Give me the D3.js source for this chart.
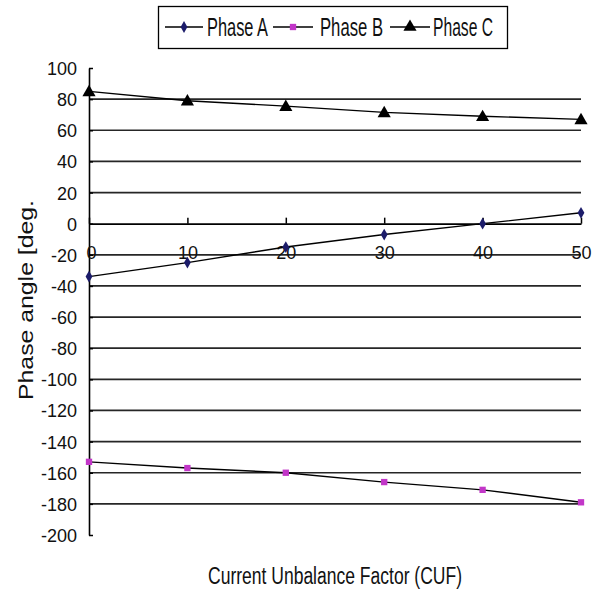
<!DOCTYPE html>
<html>
<head>
<meta charset="utf-8">
<script src="https://cdn.jsdelivr.net/npm/d3@7"></script>
<style>
  html, body { margin: 0; padding: 0; background: #fff; }
  svg { display: block; }
  text { font-family: "Liberation Sans Narrow", "Arial Narrow", "Liberation Sans", sans-serif; fill: #111; }
</style>
</head>
<body>
<div id="chart"></div>
<script>
// Current unbalance factor (%) on the x axis
const cuf = [0, 10, 20, 30, 40, 50];
// Phase angles in degrees
const phaseA = [-34, -25, -15, -7, 0, 7];
const phaseB = [-153, -157, -160, -166, -171, -179];
const phaseC = [85, 79, 75.5, 71.5, 69, 67];
const seriesNames = ["Phase A", "Phase B", "Phase C"];
const yTicks = [100, 80, 60, 40, 20, 0, -20, -40, -60, -80, -100, -120, -140, -160, -180, -200];
const xTicks = [0, 10, 20, 30, 40, 50];

const W = 599, H = 591;
const svg = d3.select("#chart").append("svg").attr("width", W).attr("height", H);

const x = d3.scaleLinear().domain([0, 50]).range([89, 581]);
const y = d3.scaleLinear().domain([-200, 100]).range([535, 68]);

const series = [
  { name: seriesNames[0], values: phaseA, marker: "diamond", color: "#1c1c6a", size: 40 },
  { name: seriesNames[1], values: phaseB, marker: "square", color: "#c236c8", size: 40 },
  { name: seriesNames[2], values: phaseC, marker: "triangle", color: "#000", size: 75 }
];
const symbolType = { diamond: d3.symbolDiamond, square: d3.symbolSquare, triangle: d3.symbolTriangle };
const plain = d => String(d);

// Horizontal gridlines (all except the axis ends and the zero axis)
svg.append("g").selectAll("line")
  .data(yTicks.filter(v => v !== 100 && v !== -200 && v !== 0))
  .join("line")
  .attr("x1", x(0)).attr("x2", x(50))
  .attr("y1", d => y(d)).attr("y2", d => y(d))
  .attr("stroke", "#262626").attr("stroke-width", 1.7);

// Y axis with inside ticks
const yAxis = svg.append("g").attr("transform", `translate(${x(0)},0)`)
  .call(d3.axisLeft(y).tickValues(yTicks).tickFormat(plain).tickSize(-4).tickSizeOuter(0));
yAxis.select(".domain").attr("stroke", "#000").attr("stroke-width", 1.6);
yAxis.selectAll(".tick line").attr("stroke", "#000").attr("stroke-width", 1.5);
yAxis.selectAll(".tick text")
  .attr("x", -12).attr("dy", "0.36em")
  .style("font-size", "18px").attr("fill", "#111");

// X axis placed at y = 0, ticks pointing upward, labels below
const xAxis = svg.append("g").attr("transform", `translate(0,${y(0)})`)
  .call(d3.axisBottom(x).tickValues(xTicks).tickFormat(plain).tickSize(-6).tickSizeOuter(0));
xAxis.select(".domain").attr("stroke", "#000").attr("stroke-width", 1.6);
xAxis.selectAll(".tick line").attr("stroke", "#000").attr("stroke-width", 1.5);
xAxis.selectAll(".tick text")
  .attr("y", 35).attr("dy", 0)
  .style("font-size", "18px").attr("fill", "#111");
xAxis.selectAll(".tick").filter(d => d === 0).select("text").attr("dx", 2);

// Series lines and markers
const line = d3.line().x((d, i) => x(cuf[i])).y(d => y(d));
series.forEach(s => {
  svg.append("path").datum(s.values)
    .attr("d", line).attr("fill", "none")
    .attr("stroke", "#000").attr("stroke-width", 1.4);
  svg.append("g").selectAll("path")
    .data(s.values)
    .join("path")
    .attr("transform", (d, i) => `translate(${x(cuf[i])},${y(d) + (s.marker === "triangle" ? 1 : 0)})`)
    .attr("d", d3.symbol().type(symbolType[s.marker]).size(s.size))
    .attr("fill", s.color);
});

// Axis titles
svg.append("text")
  .attr("transform", `translate(33,300) rotate(-90)`)
  .attr("text-anchor", "middle")
  .attr("textLength", 200).attr("lengthAdjust", "spacingAndGlyphs")
  .style("font-family", "'Liberation Sans', Arial, sans-serif")
  .style("font-size", "21px")
  .attr("fill", "#222")
  .text("Phase angle [deg.");

svg.append("text")
  .attr("x", 335).attr("y", 584)
  .attr("text-anchor", "middle")
  .attr("textLength", 254).attr("lengthAdjust", "spacingAndGlyphs")
  .style("font-size", "23px")
  .text("Current Unbalance Factor (CUF)");

// Legend
const legend = svg.append("g");
legend.append("rect")
  .attr("x", 158.5).attr("y", 6.5).attr("width", 349).attr("height", 42)
  .attr("fill", "#fff").attr("stroke", "#000").attr("stroke-width", 1.3);
const legendItems = [
  { x0: 165, x1: 203, tx: 207, tw: 61 },
  { x0: 273, x1: 313, tx: 320, tw: 63 },
  { x0: 390, x1: 430, tx: 433, tw: 60 }
];
series.forEach((s, i) => {
  const it = legendItems[i];
  const ly = 27;
  legend.append("line")
    .attr("x1", it.x0).attr("x2", it.x1).attr("y1", ly).attr("y2", ly)
    .attr("stroke", "#000").attr("stroke-width", 1.4);
  legend.append("path")
    .attr("transform", `translate(${(it.x0 + it.x1) / 2},${ly})`)
    .attr("d", d3.symbol().type(symbolType[s.marker]).size(s.size))
    .attr("fill", s.color);
  legend.append("text")
    .attr("x", it.tx).attr("y", ly + 9)
    .attr("textLength", it.tw).attr("lengthAdjust", "spacingAndGlyphs")
    .style("font-size", "25px")
    .text(s.name);
});
</script>
</body>
</html>
